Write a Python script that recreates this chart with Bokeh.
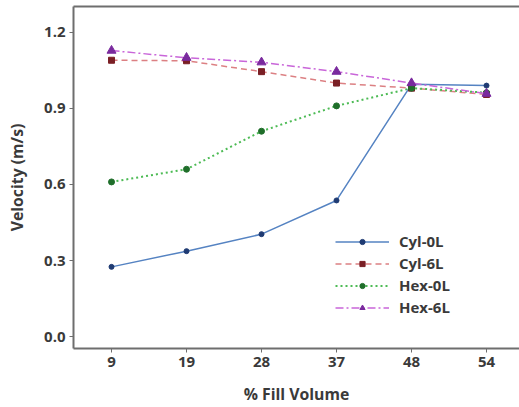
from bokeh.plotting import figure
from bokeh.models import Range1d, FixedTicker, LinearAxis, Legend, LegendItem
from bokeh.embed import file_html
from bokeh.resources import INLINE

fill_volume = ["9", "19", "28", "37", "48", "54"]
cyl_0l = [0.275, 0.337, 0.404, 0.537, 0.995, 0.99]
cyl_6l = [1.09, 1.088, 1.045, 1.0, 0.98, 0.955]
hex_0l = [0.61, 0.66, 0.81, 0.91, 0.98, 0.962]
hex_6l = [1.128, 1.10, 1.082, 1.045, 1.0, 0.958]

xs = list(range(len(fill_volume)))

p = figure(width=519, height=407, output_backend="svg", toolbar_location=None,
           x_range=Range1d(-0.507, 5.44), y_range=Range1d(-0.047, 1.302),
           min_border_left=73, min_border_right=0, min_border_top=6, min_border_bottom=58)
p.outline_line_color = None
p.grid.grid_line_color = None
p.background_fill_color = "white"

FONT = "Open Sans"
AX = "#6e6e6e"
TXT = "#3a3a3a"

p.xaxis.ticker = FixedTicker(ticks=xs)
p.xaxis.major_label_overrides = {i: s for i, s in enumerate(fill_volume)}
p.yaxis.ticker = FixedTicker(ticks=[0.0, 0.3, 0.6, 0.9, 1.2])
p.yaxis.major_label_overrides = {0.0: "0.0", 0.3: "0.3", 0.6: "0.6", 0.9: "0.9", 1.2: "1.2"}
p.xaxis.axis_label = "% Fill Volume"
p.yaxis.axis_label = "Velocity (m/s)"
for ax in (p.xaxis, p.yaxis):
    ax.axis_line_color = AX
    ax.axis_line_width = 2
    ax.major_tick_line_color = AX
    ax.major_tick_in = 0
    ax.major_tick_out = 4
    ax.minor_tick_line_color = None
    ax.major_label_text_font = FONT
    ax.major_label_text_font_size = "15px"
    ax.major_label_text_font_style = "bold"
    ax.major_label_text_color = TXT
    ax.axis_label_text_font = FONT
    ax.axis_label_text_font_size = "15.8px"
    ax.axis_label_text_font_style = "bold"
    ax.axis_label_text_color = TXT
p.xaxis.major_label_standoff = 4
p.yaxis.major_label_standoff = 4
p.xaxis.axis_label_standoff = 13
p.yaxis.axis_label_standoff = 13

top = LinearAxis(axis_line_color=AX, axis_line_width=2, major_tick_line_color=None,
                 minor_tick_line_color=None, major_label_text_font_size="0px")
top.ticker = FixedTicker(ticks=[])
p.add_layout(top, "above")

r1 = p.line(xs, cyl_0l, line_color="#5583c2", line_width=1.5)
m1 = p.scatter(xs, cyl_0l, marker="circle", size=5, fill_color="#1f3b73", line_color="#1f3b73")
r2 = p.line(xs, cyl_6l, line_color="#dc8083", line_width=1.5, line_dash="6 4")
m2 = p.scatter(xs, cyl_6l, marker="square", size=6, fill_color="#7a1f25", line_color="#7a1f25")
r3 = p.line(xs, hex_0l, line_color="#4dbb55", line_width=2, line_dash="2 3")
m3 = p.scatter(xs, hex_0l, marker="circle", size=6, fill_color="#1f6e2a", line_color="#1f6e2a")
r4 = p.line(xs, hex_6l, line_color="#c966d9", line_width=1.5, line_dash="8 3 2 3")
m4 = p.scatter(xs, hex_6l, marker="triangle", size=9, fill_color="#7a2a9e", line_color="#7a2a9e")

legend = Legend(items=[
    LegendItem(label="Cyl-0L", renderers=[r1, m1]),
    LegendItem(label="Cyl-6L", renderers=[r2, m2]),
    LegendItem(label="Hex-0L", renderers=[r3, m3]),
    LegendItem(label="Hex-6L", renderers=[r4, m4]),
], location=(262, 31))
legend.padding = 0
legend.margin = 0
legend.spacing = 2
legend.glyph_width = 54
legend.glyph_height = 13
legend.label_height = 20
legend.label_standoff = 10
legend.border_line_color = None
legend.background_fill_alpha = 0
legend.label_text_font = FONT
legend.label_text_font_size = "15px"
legend.label_text_font_style = "bold"
legend.label_text_color = TXT
p.add_layout(legend, "center")

open("out.html", "w").write(file_html(p, INLINE))
